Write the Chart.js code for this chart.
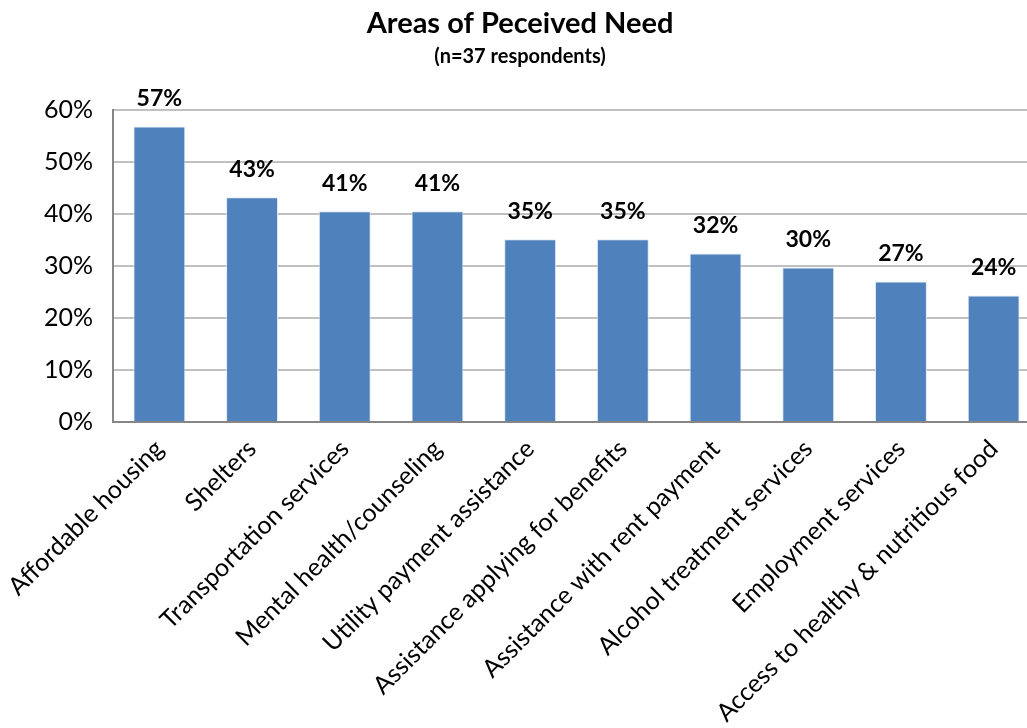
<!DOCTYPE html>
<html>
<head>
<meta charset="utf-8">
<title>Areas of Peceived Need</title>
<script src="https://cdn.jsdelivr.net/npm/chart.js@4.4.1/dist/chart.umd.min.js"></script>
<style>
    html, body { margin: 0; padding: 0; background: #fff; overflow: hidden; }
    #wrap { width: 1027px; height: 728px; overflow: hidden; }
</style>
</head>
<body>
<div id="wrap"><canvas id="needChart" width="1040" height="728"></canvas></div>
<script>
// Areas of perceived need - share of respondents (n=37)
const categories = [
    'Affordable housing',
    'Shelters',
    'Transportation services',
    'Mental health/counseling',
    'Utility payment assistance',
    'Assistance applying for benefits',
    'Assistance with rent payment',
    'Alcohol treatment services',
    'Employment services',
    'Access to healthy & nutritious food'
];
const percentages = [56.8, 43.2, 40.5, 40.5, 35.1, 35.1, 32.4, 29.7, 27.0, 24.3];
const yMax = 60;
const yStep = 10;

const FONT = 'Lato, "Open Sans", sans-serif';
const BAR_BLUE = '#4F81BD';

// Bold value labels above each bar
const valueLabels = {
    id: 'valueLabels',
    afterDatasetsDraw: function (chart) {
        const ctx = chart.ctx;
        const meta = chart.getDatasetMeta(0);
        ctx.save();
        ctx.font = 'bold 23px ' + FONT;
        ctx.fillStyle = '#000';
        ctx.textAlign = 'center';
        ctx.textBaseline = 'middle';
        meta.data.forEach((bar, i) => {
            ctx.fillText(Math.round(percentages[i]) + '%', bar.x, bar.y - 28);
        });
        ctx.restore();
    }
};

new Chart(document.getElementById('needChart'), {
    type: 'bar',
    data: {
        labels: categories,
        datasets: [{
            data: percentages,
            backgroundColor: BAR_BLUE,
            borderColor: 'rgba(220, 230, 242, 0.9)',
            borderWidth: 1,
            barPercentage: 0.56,
            categoryPercentage: 1
        }]
    },
    options: {
        responsive: false,
        devicePixelRatio: 1,
        animation: false,
        layout: { padding: { left: 0, right: 0, top: 0, bottom: 0 } },
        plugins: {
            legend: { display: false },
            tooltip: { enabled: false },
            title: {
                display: true,
                text: 'Areas of Peceived Need',
                color: '#000',
                font: { family: FONT, size: 29, weight: 'bold' },
                padding: { top: 6, bottom: 2 }
            },
            subtitle: {
                display: true,
                text: '(n=37 respondents)',
                color: '#000',
                font: { family: FONT, size: 20, weight: 'bold' },
                padding: { top: 2, bottom: 41 }
            }
        },
        scales: {
            y: {
                min: 0,
                max: yMax,
                ticks: {
                    stepSize: yStep,
                    color: '#000',
                    padding: 20,
                    font: { family: FONT, size: 25 },
                    callback: v => v + '%'
                },
                grid: { color: '#C0C0C0', lineWidth: 2, drawTicks: false },
                border: { color: '#868686', width: 2 },
                afterFit: s => { s.width = 113; }
            },
            x: {
                ticks: {
                    color: '#000',
                    minRotation: 45,
                    maxRotation: 45,
                    autoSkip: false,
                    padding: 12,
                    font: { family: FONT, size: 25 }
                },
                grid: { display: false, drawTicks: false },
                border: { color: '#868686', width: 2 },
                afterFit: s => {
                    s.height = 306;
                    s.paddingLeft = 0;
                    s.paddingRight = 0;
                }
            }
        }
    },
    plugins: [valueLabels]
});
</script>
</body>
</html>
